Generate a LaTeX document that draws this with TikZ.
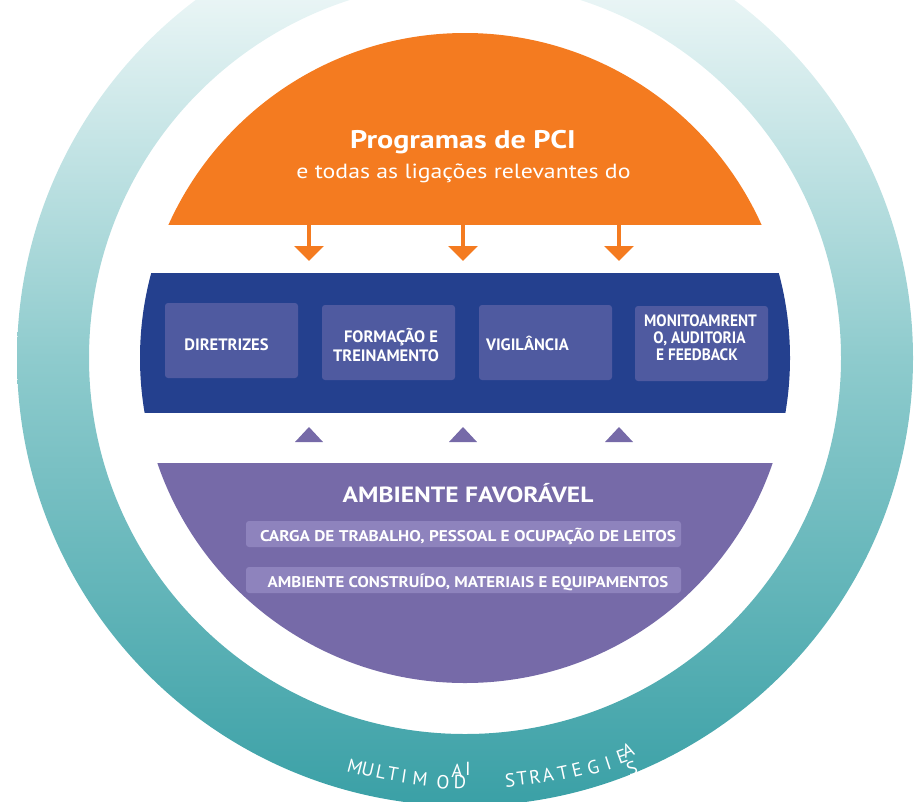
\documentclass[tikz,border=0pt]{standalone}
\usepackage{fontspec}
\usepackage{graphicx}
\setmainfont{PT Sans}
\usetikzlibrary{arrows.meta}
\definecolor{pciorange}{HTML}{F47B20}
\definecolor{bandblue}{HTML}{24408E}
\definecolor{boxblue}{HTML}{4F5AA0}
\definecolor{envpurple}{HTML}{766AA8}
\definecolor{boxpurple}{HTML}{8E83BD}
\definecolor{ringteal}{HTML}{3AA0A6}
\definecolor{ringmid}{HTML}{8ECBCD}
\newcommand\hscl[2]{\scalebox{#1}[1]{#2}}
\begin{document}
\begin{tikzpicture}[x=1pt,y=1pt,
  bluebox/.style={fill=boxblue, rounded corners=3pt},
  purplebox/.style={fill=boxpurple, rounded corners=3pt},
  boxtext/.style={text=white, font=\bfseries\fontsize{16.5}{18}\selectfont, inner sep=0pt, anchor=base},
  envtext/.style={text=white, font=\bfseries\fontsize{15.5}{17}\selectfont, inner sep=0pt, anchor=base},
  ringletter/.style={text=white, font=\fontsize{19}{19}\selectfont, inner sep=0pt},
  downarrow/.style={draw=pciorange, line width=3.5pt, -{Triangle[width=29pt,length=15pt]}},
  uptri/.style={fill=envpurple}]
\useasboundingbox (0,0) rectangle (920,-801);
\clip (0,0) rectangle (920,-801);
% outer ring
\shade[even odd rule, top color=white, bottom color=ringteal, middle color=ringmid]
  (465,-358) circle (448pt) (465,-358) circle (376pt);
% inner disc parts
\coordinate (ctr) at (465,-358);
\begin{scope}
  \clip (ctr) circle (325pt);
  \fill[pciorange] (100,0) rectangle (830,-225);
  \fill[bandblue] (100,-273) rectangle (830,-413);
  \fill[envpurple] (100,-463) rectangle (830,-700);
\end{scope}
% title
\node[text=white, font=\bfseries\fontsize{25.5}{28}\selectfont, inner sep=0pt, anchor=base] (title) at (463,-148) {\hscl{1.18}{Programas de PCI}};
\node[text=white, font=\fontsize{20.5}{24}\selectfont, inner sep=0pt, anchor=base] (subtitle) at (463.5,-178) {\hscl{1.16}{e todas as ligações relevantes do}};
% down arrows
\foreach \x [count=\i] in {309,463,619} {
  \coordinate (a\i) at (\x,-225);
  \coordinate (b\i) at (\x,-261);
  \draw[downarrow] (a\i) -- (b\i);
}
% blue boxes
\fill[bluebox] (165,-303) rectangle (298,-378);
\fill[bluebox] (322,-305) rectangle (455,-380);
\fill[bluebox] (479,-305) rectangle (612,-380);
\fill[bluebox] (635,-306) rectangle (768,-381);
\node[boxtext] (t1) at (226.5,-350) {DIRETRIZES};
\node[boxtext] (t2a) at (391,-342) {FORMAÇÃO E};
\node[boxtext] (t2b) at (386,-361) {TREINAMENTO};
\node[boxtext] (t3) at (527.5,-350) {VIGILÂNCIA};
\node[boxtext] (t4a) at (700.5,-326) {\hscl{0.93}{MONITOAMRENT}};
\node[boxtext] (t4b) at (699.5,-343) {\hscl{0.93}{O, AUDITORIA}};
\node[boxtext] (t4c) at (697,-360) {\hscl{0.93}{E FEEDBACK}};
% up triangles
\foreach \x in {309,463,619} {
  \fill[uptri] (\x-14,-442) -- (\x+14,-442) -- (\x,-427) -- cycle;
}
% purple section
\node[text=white, font=\bfseries\fontsize{22}{24}\selectfont, inner sep=0pt, anchor=base] (env) at (468,-502) {\hscl{1.16}{AMBIENTE FAVORÁVEL}};
\fill[purplebox] (246,-521) rectangle (681,-547);
\fill[purplebox] (246,-567) rectangle (681,-593);
\node[envtext] (e1) at (468,-541) {\hscl{1.11}{CARGA DE TRABALHO, PESSOAL E OCUPAÇÃO DE LEITOS}};
\node[envtext] (e2) at (468,-587) {\hscl{1.09}{AMBIENTE CONSTRUÍDO, MATERIAIS E EQUIPAMENTOS}};
% ring letters
\foreach \x/\y/\c [count=\i] in {355/767/M,368/770/U,381/772/L,393/774/T,404/776/I,420/779/M,443/782/O,460/782/D,457/771/A,468/769/I,
  510/780/S,522/778/T,535/777/R,548/775/A,563/773/T,577/770/E,593/767/G,608/763/I,622/757/E,628/750/A,632/768/S} {
  \pgfmathsetmacro\rr{(\x-470)*0.13}
  \node[ringletter, rotate=\rr] (r\i) at (\x,-\y) {\c};
}
\end{tikzpicture}
\end{document}
